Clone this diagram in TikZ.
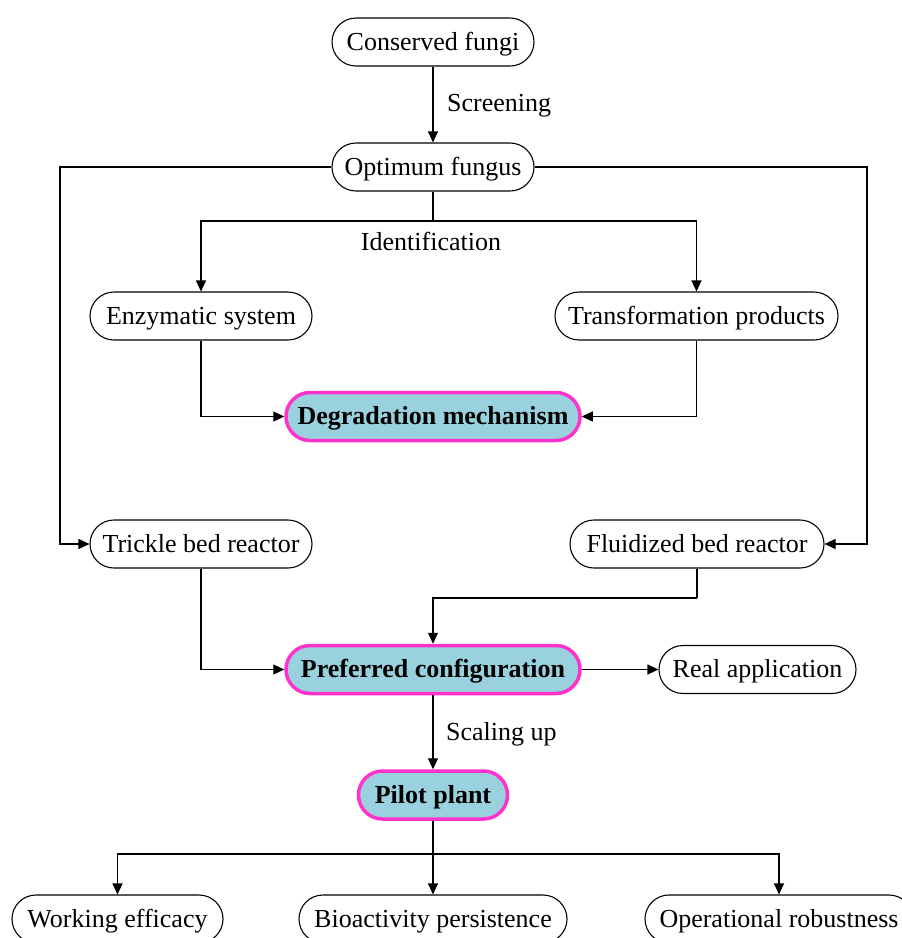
\documentclass[tikz,border=0pt]{standalone}
\usepackage{fontspec}
\setmainfont{Liberation Serif}
\usetikzlibrary{arrows.meta}
\definecolor{hlfill}{RGB}{153,210,222}
\definecolor{hldraw}{RGB}{255,51,204}
\begin{document}
\begin{tikzpicture}[x=1pt,y=-1pt,
  box/.style={draw=black,line width=1.1pt,rounded corners=24pt,minimum height=48pt,inner sep=0pt,text height=19pt,text depth=3pt,font=\fontsize{26}{30}\selectfont},
  hl/.style={box,fill=hlfill,draw=hldraw,line width=3.5pt,font=\fontsize{26}{30}\selectfont\bfseries},
  lbl/.style={inner sep=0pt,text height=19pt,text depth=3pt,font=\fontsize{26}{30}\selectfont},
  conn/.style={line width=1.1pt,-{Triangle[length=11pt,width=10pt]}},
  plain/.style={line width=1.1pt}]
\useasboundingbox (0,0) rectangle (902,938);
\clip (0,0) rectangle (902,938);
\node[box,minimum width=202pt] (cf) at (433,42) {Conserved fungi};
\node[box,minimum width=202pt] (of) at (433,167) {Optimum fungus};
\node[box,minimum width=222pt] (es) at (201,316) {Enzymatic system};
\node[box,minimum width=283pt] (tp) at (696.5,316) {Transformation products};
\node[hl,minimum width=294pt] (dm) at (433,416.5) {Degradation mechanism};
\node[box,minimum width=222pt] (tb) at (201,544) {Trickle bed reactor};
\node[box,minimum width=254pt] (fb) at (697,544) {Fluidized bed reactor};
\node[hl,minimum width=294pt] (pc) at (433,669.5) {Preferred configuration};
\node[box,minimum width=197pt] (ra) at (757.5,669.5) {Real application};
\node[hl,minimum width=149pt] (pp) at (433,795) {Pilot plant};
\node[box,minimum width=211pt] (we) at (117.5,919) {Working efficacy};
\node[box,minimum width=268pt] (bp) at (433,919) {Bioactivity persistence};
\node[box,minimum width=268pt] (or) at (779,919) {Operational robustness};
\node[lbl,anchor=west] (l1) at (447,103) {Screening};
\node[lbl] (l2) at (431,242) {Identification};
\node[lbl,anchor=west] (l3) at (446,732) {Scaling up};
\coordinate (j1) at (433,221);
\coordinate (j2) at (697,598);
\coordinate (j3) at (433,854);
\draw[conn] (cf) -- (of);
\draw[conn] (of.west) -- (60,167) |- (tb.west);
\draw[conn] (of.east) -- (867,167) |- (fb.east);
\draw[plain] (of.south) -- (j1);
\draw[conn] (j1) -| (es.north);
\draw[conn] (j1) -| (tp.north);
\draw[conn] (es.south) |- (dm.west);
\draw[conn] (tp.south) |- (dm.east);
\draw[plain] (fb.south) -- (j2);
\draw[conn] (j2) -| (pc.north);
\draw[conn] (tb.south) |- (pc.west);
\draw[conn] (pc.east) -- (ra.west);
\draw[conn] (pc.south) -- (pp.north);
\draw[plain] (pp.south) -- (j3);
\draw[conn] (j3) -| (we.north);
\draw[conn] (j3) -- (bp.north);
\draw[conn] (j3) -| (or.north);
\end{tikzpicture}
\end{document}
